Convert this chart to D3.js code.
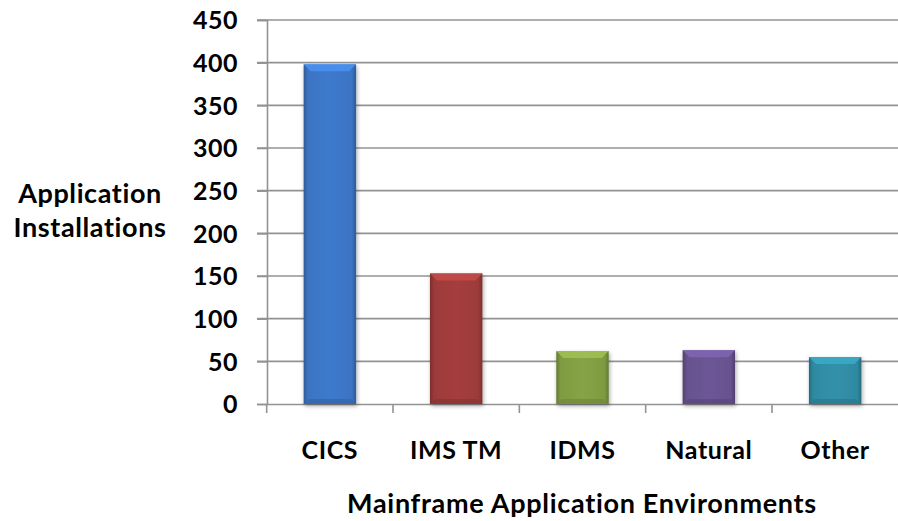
<!DOCTYPE html>
<html><head><meta charset="utf-8">
<script src="https://cdn.jsdelivr.net/npm/d3@7"></script>
<style>body{margin:0;background:#fff}svg{display:block}text{font-family:Lato,"Open Sans",sans-serif;font-weight:bold;fill:#000}</style>
</head><body><svg id="c" width="898" height="521"></svg>
<script>
const categories = ["CICS","IMS TM","IDMS","Natural","Other"];
const values = [398,153,62,63,55];
const yTicks = [0,50,100,150,200,250,300,350,400,450];
const barColors = ["#3b74c2","#9c3b3a","#7f9b42","#67528e","#2f89a1"];
const yTitle = ["Application","Installations"];
const xTitle = "Mainframe Application Environments";

const svg = d3.select("#c");
const m = {l:267, r:898, t:20, b:404};
const x = d3.scaleBand().domain(categories).range([m.l,m.r]).paddingInner(0.585).paddingOuter(0.29);
const y = d3.scaleLinear().domain([0,450]).range([m.b,m.t]);

const defs = svg.append("defs");
const f = defs.append("filter").attr("id","sh").attr("x","-20%").attr("y","-20%").attr("width","150%").attr("height","150%");
f.append("feGaussianBlur").attr("in","SourceAlpha").attr("stdDeviation",2);
f.append("feOffset").attr("dx",1).attr("dy",2).attr("result","o");
f.append("feComponentTransfer").append("feFuncA").attr("type","linear").attr("slope",0.35);
const fm = f.append("feMerge"); fm.append("feMergeNode"); fm.append("feMergeNode").attr("in","SourceGraphic");

barColors.forEach((c,i)=>{
  const g = defs.append("linearGradient").attr("id","g"+i);
  const base = d3.color(c), dk = base.darker(0.7), lt = base.brighter(0.15);
  [[0,dk],[0.08,base],[0.5,lt],[0.92,base],[1,dk]].forEach(([o,col])=>g.append("stop").attr("offset",o).attr("stop-color",col));
});

const gridCol = "#939393";
// gridlines
svg.append("g").selectAll("line").data(yTicks.filter(d=>d>0)).join("line")
  .attr("x1",m.l-10).attr("x2",m.r).attr("y1",d=>y(d)).attr("y2",d=>y(d))
  .attr("stroke",gridCol).attr("stroke-width",1.6);

// axes
const ya = svg.append("g").attr("transform",`translate(${m.l},0)`)
  .call(d3.axisLeft(y).tickValues(yTicks).tickSize(10).tickPadding(19));
ya.select(".domain").attr("stroke",gridCol).attr("stroke-width",1.6);
ya.selectAll(".tick line").attr("stroke",gridCol).attr("stroke-width",1.6);
ya.selectAll("text").style("font-size","25px").style("letter-spacing","0.5px").attr("dy","0.35em");

const xa = svg.append("g").attr("transform",`translate(0,${m.b})`)
  .call(d3.axisBottom(x).tickSize(0).tickPadding(37));
xa.select(".domain").attr("stroke",gridCol).attr("stroke-width",1.6);
xa.selectAll("text").style("font-size","25px").style("letter-spacing","0.6px");
const step = x.step();
const bounds = categories.map(c=>x(c) - (step - x.bandwidth())/2);
svg.append("g").selectAll("line").data(bounds).join("line")
  .attr("x1",d=>d).attr("x2",d=>d).attr("y1",m.b).attr("y2",m.b+9)
  .attr("stroke",gridCol).attr("stroke-width",1.6);

// bars
const bars = svg.append("g").selectAll("g").data(categories).join("g").attr("filter","url(#sh)");
bars.append("rect").attr("x",d=>x(d)).attr("width",x.bandwidth())
  .attr("y",(d,i)=>y(values[i])).attr("height",(d,i)=>y(0)-y(values[i]))
  .attr("fill",(d,i)=>`url(#g${i})`);
// top bevel
bars.append("path").attr("d",(d,i)=>{
  const x0=x(d), x1=x0+x.bandwidth(), t=y(values[i]), h=7;
  return `M${x0},${t}L${x1},${t}L${x1-h},${t+h}L${x0+h},${t+h}Z`;
}).attr("fill",(d,i)=>d3.color(barColors[i]).brighter(0.6)).attr("opacity",0.9);
// bottom bevel
bars.append("path").attr("d",(d,i)=>{
  const x0=x(d), x1=x0+x.bandwidth(), b=y(0), h=5;
  return `M${x0},${b}L${x1},${b}L${x1-h},${b-h}L${x0+h},${b-h}Z`;
}).attr("fill",(d,i)=>d3.color(barColors[i]).darker(0.3)).attr("opacity",0.8);

// titles
svg.append("text").attr("text-anchor","middle").style("font-size","27px").style("letter-spacing","0.6px")
  .selectAll("tspan").data(yTitle).join("tspan").attr("x",90).attr("y",(d,i)=>203+i*34).text(d=>d);
svg.append("text").attr("x",582).attr("y",513).attr("text-anchor","middle").style("font-size","27px").style("letter-spacing","0.7px").text(xTitle);
</script></body></html>
